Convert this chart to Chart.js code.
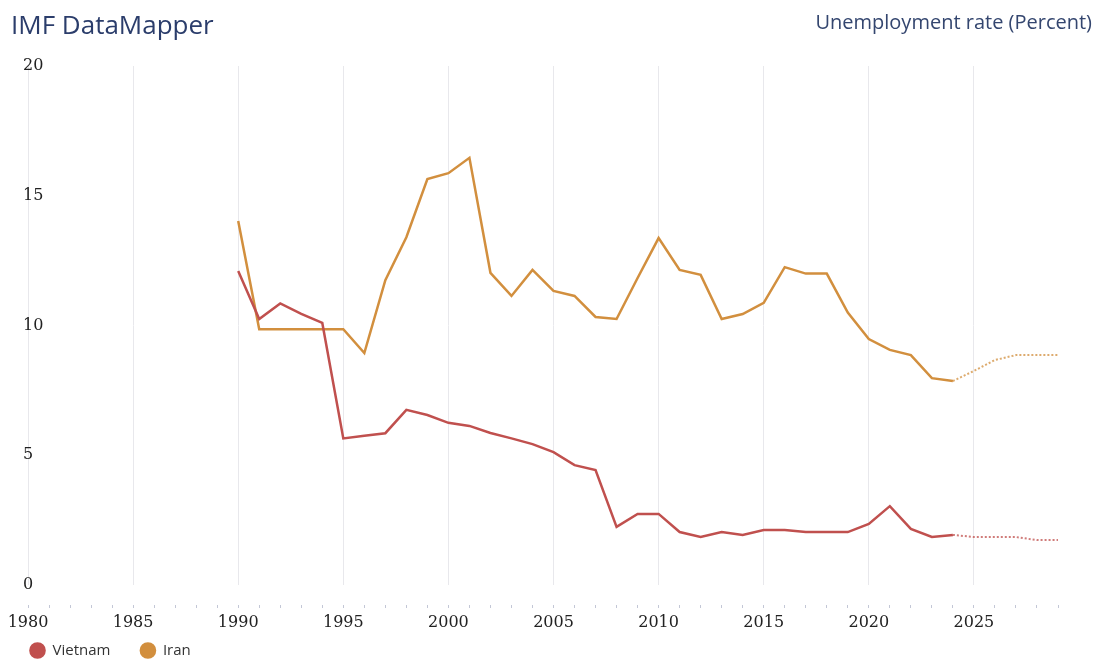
<!DOCTYPE html>
<html>
<head>
<meta charset="utf-8">
<script src="https://cdn.jsdelivr.net/npm/chart.js@4.4.1/dist/chart.umd.min.js"></script>
<style>
  html, body { margin: 0; padding: 0; background: #fff; }
  #wrap { position: relative; width: 1095px; height: 660px; }
  #title { position: absolute; left: 11px; top: 0; font: 26px "Open Sans", sans-serif; line-height: 48px; color: #2b3d6b; }
  #subtitle { position: absolute; right: 3px; top: 0; font: 20px "Open Sans", sans-serif; line-height: 44px; color: #34466f; }
</style>
</head>
<body>
<div id="wrap">
  <canvas id="chart" width="1095" height="660"></canvas>
  <div id="title">IMF DataMapper</div>
  <div id="subtitle">Unemployment rate (Percent)</div>
</div>
<script>
// years shown on the axis, 1980 - 2029
const years = [];
for (let y = 1980; y <= 2029; y++) years.push(y);

// values start in 1990; 2025 onward are projections
const vietnam = [
  null, null, null, null, null, null, null, null, null, null,
  12.1, 10.25, 10.85, 10.45, 10.1, 5.65, 5.75, 5.85, 6.75, 6.55,
  6.25, 6.13, 5.86, 5.65, 5.43, 5.12, 4.62, 4.43, 2.24, 2.74,
  2.74, 2.04, 1.85, 2.04, 1.93, 2.12, 2.12, 2.04, 2.04, 2.04,
  2.35, 3.04, 2.16, 1.85, 1.93, 1.85, 1.85, 1.85, 1.73, 1.73
];
const iran = [
  null, null, null, null, null, null, null, null, null, null,
  14.03, 9.86, 9.86, 9.86, 9.86, 9.86, 8.94, 11.75, 13.4, 15.64,
  15.87, 16.46, 12.03, 11.14, 12.14, 11.33, 11.14, 10.33, 10.25, 11.83,
  13.37, 12.14, 11.95, 10.25, 10.44, 10.87, 12.25, 12.0, 12.0, 10.5,
  9.48, 9.06, 8.86, 7.97, 7.86, 8.25, 8.67, 8.86, 8.86, 8.86
];
const lastActual = 2024;

const vietnamColor = '#c0504e';
const iranColor = '#d28f3e';

function points(vals) {
  return years.map((yr, i) => ({ x: yr, y: vals[i] }));
}

function makeSet(label, vals, color, faded) {
  return {
    label: label,
    data: points(vals),
    borderColor: color,
    backgroundColor: color,
    borderWidth: 2.5,
    pointRadius: 0,
    pointHoverRadius: 0,
    tension: 0,
    segment: {
      borderDash: ctx => ctx.p0.parsed.x >= lastActual ? [2, 2] : undefined,
      borderWidth: ctx => ctx.p0.parsed.x >= lastActual ? 2 : undefined,
      borderColor: ctx => ctx.p0.parsed.x >= lastActual ? faded : undefined
    }
  };
}

// the x axis is squeezed so the legend sits close; let its labels draw below it
const labelRoom = {
  id: 'labelRoom',
  afterLayout(chart) { chart.scales.x.bottom = chart.height; }
};

new Chart(document.getElementById('chart'), {
  type: 'line',
  data: {
    datasets: [
      makeSet('Vietnam', vietnam, vietnamColor, 'rgba(192,80,78,0.75)'),
      makeSet('Iran', iran, iranColor, 'rgba(210,143,62,0.75)')
    ]
  },
  plugins: [labelRoom],
  options: {
    responsive: false,
    animation: false,
    layout: { padding: { top: 66, left: 0, right: 37, bottom: -8 } },
    scales: {
      x: {
        type: 'linear',
        min: 1980,
        max: 2029,
        afterFit: scale => { scale.height = 28; },
        border: { display: false },
        grid: {
          color: ctx => (ctx.tick && ctx.tick.value % 5 === 0) ? '#e8e8ec' : 'rgba(0,0,0,0)',
          lineWidth: 1,
          tickLength: 23,
          tickColor: '#c3c7d6',
          tickBorderDash: [0, 20, 3, 100]
        },
        ticks: {
          stepSize: 1,
          autoSkip: false,
          maxRotation: 0,
          padding: 5,
          color: '#222',
          font: { family: 'DejaVu Serif', size: 16 },
          callback: v => v % 5 === 0 ? String(v) : ''
        }
      },
      y: {
        min: 0,
        max: 20,
        afterFit: scale => { scale.width = 28; },
        border: { display: false },
        grid: { display: false, drawTicks: false },
        ticks: {
          stepSize: 5,
          mirror: true,
          padding: -5,
          color: '#222',
          font: { family: 'DejaVu Serif', size: 16 }
        }
      }
    },
    plugins: {
      legend: {
        position: 'bottom',
        align: 'start',
        labels: {
          usePointStyle: true,
          pointStyle: 'circle',
          boxWidth: 15,
          boxHeight: 10,
          padding: 30,
          color: '#333',
          font: { family: 'Open Sans', size: 15 }
        }
      },
      tooltip: { enabled: false }
    }
  }
});
</script>
</body>
</html>
